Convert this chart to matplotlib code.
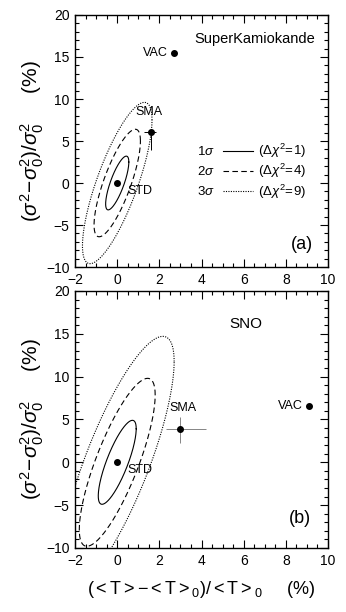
import numpy as np
import matplotlib
matplotlib.use("Agg")
import matplotlib.pyplot as plt
from matplotlib.ticker import MultipleLocator

plt.rcParams["font.family"] = ["Liberation Sans", "DejaVu Sans"]
plt.rcParams["mathtext.fontset"] = "custom"
plt.rcParams["mathtext.rm"] = "Liberation Sans"
plt.rcParams["mathtext.it"] = "Liberation Sans:italic"

# contour parameters: centre, sigma_x, sigma_y, correlation
center_a = (0.0, 0.0)
sig_a = (0.55, 3.2)
rho_a = 0.78
center_b = (0.0, 0.0)
sig_b = (0.9, 4.9)
rho_b = 0.8
dchi2 = [1, 4, 9]
styles = ["-", (0, (5, 3)), (0, (1, 1.2))]

# points
std_a = (0.0, 0.0)
sma_a = (1.6, 6.1)
sma_a_xerr = [[0.35], [0.25]]
sma_a_yerr = [[2.2], [0.3]]
vac_a = (2.7, 15.5)

std_b = (0.0, 0.0)
sma_b = (3.0, 3.9)
sma_b_xerr = [[0.7], [1.2]]
sma_b_yerr = [[1.7], [1.4]]
vac_b = (9.1, 6.6)


def contour(ax, c, s, rho, k, ls):
    cov = np.array([[s[0] ** 2, rho * s[0] * s[1]], [rho * s[0] * s[1], s[1] ** 2]])
    L = np.linalg.cholesky(cov)
    t = np.linspace(0, 2 * np.pi, 300)
    pts = np.sqrt(k) * L @ np.vstack([np.cos(t), np.sin(t)])
    ax.plot(pts[0] + c[0], pts[1] + c[1], color="black", lw=0.8, ls=ls, clip_on=True)


def frame(ax):
    ax.set_xlim(-2, 10)
    ax.set_ylim(-10, 20)
    ax.xaxis.set_major_locator(MultipleLocator(2))
    ax.xaxis.set_minor_locator(MultipleLocator(0.5))
    ax.yaxis.set_major_locator(MultipleLocator(5))
    ax.yaxis.set_minor_locator(MultipleLocator(1))
    ax.tick_params(which="both", direction="in", top=True, right=True, labelsize=10, width=0.8)
    ax.tick_params(which="major", length=6, pad=4)
    ax.tick_params(which="minor", length=3)
    for sp in ax.spines.values():
        sp.set_linewidth(1.0)
    ax.set_ylabel(r"$(\sigma^2\!-\!\sigma_0^2)/\sigma_0^2$     (%)", fontsize=15, labelpad=0)


fig = plt.figure(figsize=(3.46, 6.12), dpi=100)
ax1 = fig.add_axes([0.217, 0.5637, 0.731, 0.4118])
ax2 = fig.add_axes([0.217, 0.1046, 0.731, 0.42])

for ax, c, s, rho in [(ax1, center_a, sig_a, rho_a), (ax2, center_b, sig_b, rho_b)]:
    frame(ax)
    for k, ls in zip(dchi2, styles):
        contour(ax, c, s, rho, k, ls)

# panel (a)
ax1.plot(*std_a, "ko", ms=4)
ax1.text(std_a[0] + 0.5, std_a[1] - 1.3, "STD", fontsize=9)
ax1.errorbar(*sma_a, xerr=sma_a_xerr, yerr=sma_a_yerr, fmt="ko", ms=4, lw=0.7, capsize=0)
ax1.text(sma_a[0] - 0.1, sma_a[1] + 2.0, "SMA", fontsize=9, ha="center")
ax1.plot(*vac_a, "ko", ms=4)
ax1.text(vac_a[0] - 0.3, vac_a[1], "VAC", fontsize=9, ha="right", va="center")
ax1.text(9.4, 17.1, "SuperKamiokande", fontsize=10.5, ha="right", va="center")
ax1.text(9.3, -7.3, "(a)", fontsize=13, ha="right", va="center")
for i, (lab, k, ls) in enumerate(zip(["1σ", "2σ", "3σ"], dchi2, styles)):
    y = 3.8 - 2.4 * i
    ax1.text(3.8, y, lab.replace("σ", r"$\sigma$"), fontsize=9.5, va="center")
    ax1.plot([5.0, 6.45], [y, y], color="black", lw=0.8, ls=ls)
    ax1.text(6.7, y, r"$(\Delta\chi^2\!=\!%d)$" % k, fontsize=9.5, va="center")

# panel (b)
ax2.plot(*std_b, "ko", ms=4)
ax2.text(std_b[0] + 0.5, std_b[1] - 1.3, "STD", fontsize=9)
ax2.errorbar(*sma_b, xerr=sma_b_xerr, yerr=sma_b_yerr, fmt="ko", ms=4, lw=0.5, ecolor="#555555", capsize=0)
ax2.text(sma_b[0] + 0.1, sma_b[1] + 2.1, "SMA", fontsize=9, ha="center")
ax2.plot(*vac_b, "ko", ms=4)
ax2.text(vac_b[0] - 0.3, vac_b[1], "VAC", fontsize=9, ha="right", va="center")
ax2.text(6.1, 16.2, "SNO", fontsize=11, ha="center", va="center")
ax2.text(9.2, -6.6, "(b)", fontsize=13, ha="right", va="center")
ax2.set_xlabel(r"$(<\mathrm{T}>-<\mathrm{T}>_0)/<\mathrm{T}>_0$     (%)",
               fontsize=13, labelpad=8)

fig.savefig("out.png", dpi=100)
